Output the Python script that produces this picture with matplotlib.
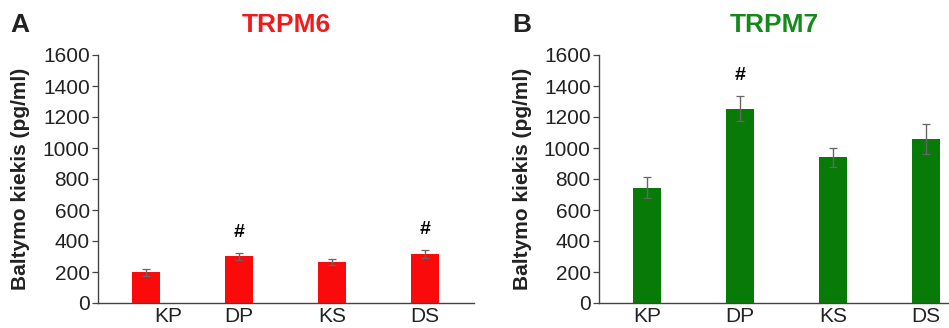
import matplotlib
matplotlib.use("Agg")
import matplotlib.pyplot as plt
import matplotlib.transforms as mtransforms

plt.rcParams['font.family'] = ['Liberation Sans', 'DejaVu Sans']

categories = ["KP", "DP", "KS", "DS"]
trpm6_vals = [198, 301, 265, 316]
trpm6_err = [24, 22, 17, 28]
trpm6_sig = [False, True, False, True]
trpm7_vals = [745, 1253, 939, 1059]
trpm7_err = [67, 82, 60, 99]
trpm7_sig = [False, True, False, False]
yticks = [0, 200, 400, 600, 800, 1000, 1200, 1400, 1600]

W, H = 949, 328
fig = plt.figure(figsize=(W / 100, H / 100), dpi=100)

def make_ax(left_px, right_px, vals, errs, sig, color, title, title_color, xmax, label_shift, ylab_x_px):
    ax = fig.add_axes([left_px / W, 1 - 303 / H, (right_px - left_px) / W, (303 - 55) / H])
    x = list(range(len(categories)))
    ax.bar(x, vals, width=0.30, color=color, zorder=2)
    ax.errorbar(x, vals, yerr=errs, fmt='none', ecolor='#666666', elinewidth=1.0,
                capsize=3, capthick=0.9, zorder=3)
    for xi, v, e, s in zip(x, vals, errs, sig):
        if s:
            ax.text(xi, v + e + 130, "#", ha='center', va='center', fontsize=14,
                    fontweight='bold', color='black')
    ax.set_xlim(-0.52, xmax)
    ax.set_ylim(0, 1600)
    ax.set_yticks(yticks)
    ax.set_yticklabels([str(t) for t in yticks], fontsize=15, color='#222222')
    ax.set_xticks(x)
    ax.set_xticklabels(categories, fontsize=15, color='#222222')
    ax.tick_params(axis='x', length=0, pad=3)
    ax.tick_params(axis='y', length=4, width=0.9, pad=2, color='#444444')
    for sp in ['top', 'right']:
        ax.spines[sp].set_visible(False)
    for sp in ['left', 'bottom']:
        ax.spines[sp].set_color('#444444')
        ax.spines[sp].set_linewidth(1.0)
    if label_shift:
        lab = ax.get_xticklabels()[0]
        lab.set_transform(lab.get_transform() + mtransforms.ScaledTranslation(label_shift / 100, 0, fig.dpi_scale_trans))
    ax.set_ylabel("Baltymo kiekis (pg/ml)", fontsize=15, fontweight='bold', color='#222222', va='center')
    ax.yaxis.set_label_coords((ylab_x_px - left_px) / (right_px - left_px), 0.5)
    ax.text(0.5, (303 - 25) / 248, title, transform=ax.transAxes, ha='center', va='center',
            fontsize=19, fontweight='bold', color=title_color)
    return ax

axA = make_ax(98, 474, trpm6_vals, trpm6_err, trpm6_sig, '#fa0a0a', "TRPM6", '#ee1c1c', 3.53, 22, 21)
axB = make_ax(599, 949, trpm7_vals, trpm7_err, trpm7_sig, '#077a07', "TRPM7", '#15891a', 3.25, 0, 523)

fig.text(10 / W, 1 - 25 / H, "A", fontsize=19, fontweight='bold', color='#222222', va='center', ha='left')
fig.text(512 / W, 1 - 25 / H, "B", fontsize=19, fontweight='bold', color='#222222', va='center', ha='left')

fig.savefig("out.png", dpi=100)
